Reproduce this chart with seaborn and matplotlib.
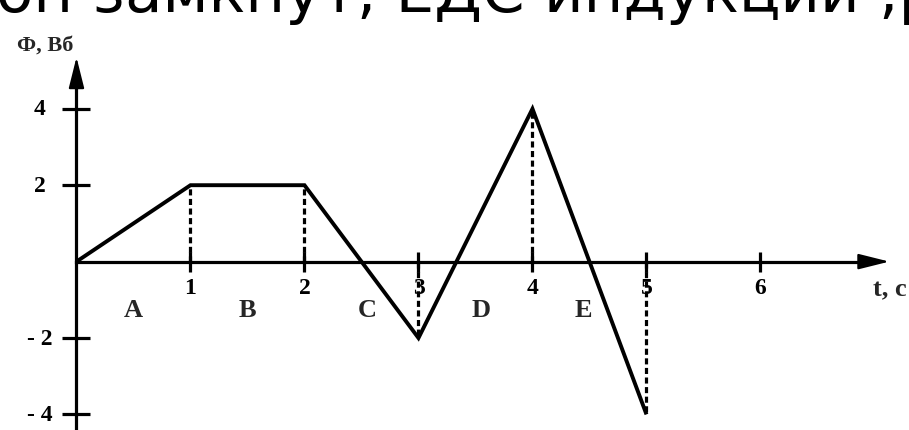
import matplotlib
matplotlib.use("Agg")
import matplotlib.pyplot as plt
from matplotlib.patches import FancyArrowPatch
import pandas as pd
import seaborn as sns

# Magnetic flux through the loop versus time
time_s = [0, 1, 2, 3, 4, 5]
flux_wb = [0, 2, 2, -2, 4, -4]

x_ticks = [1, 2, 3, 4, 5, 6]
x_tick_labels = ["1", "2", "3", "4", "5", "6"]
y_ticks = [4, 2, -2, -4]
y_tick_labels = ["4", "2", "- 2", "- 4"]

segment_names = ["A", "B", "C", "D", "E"]
segment_t = [0.5, 1.5, 2.55, 3.55, 4.45]

y_title = "Ф, Вб"
x_title = "t, с"
heading = "он замкнут, ЕДС индукции ,β, с"

sns.set_theme(style="white")
plt.rcParams["font.family"] = ["Liberation Serif", "DejaVu Serif"]

W, H = 909, 431
fig = plt.figure(figsize=(W / 100, H / 100), dpi=100)
ax = fig.add_axes([0, 0, 1, 1])
ax.set_facecolor("white")
ax.set_xlim(-0.671, 7.303)
ax.set_ylim(-4.408, 6.874)

df = pd.DataFrame({"t": time_s, "phi": flux_wb})
sns.lineplot(data=df, x="t", y="phi", ax=ax, color="black", linewidth=2.8,
             sort=False, estimator=None, legend=False)
for ln in ax.lines:
    ln.set_solid_joinstyle("miter")
    ln.set_solid_capstyle("butt")

# dashed drop lines from each vertex to the time axis
ax.vlines(time_s[1:], 0, flux_wb[1:], colors="black", linewidth=2.3,
          linestyles=(0, (1.9, 1.1)))

# axes through the origin
for side in ("top", "right"):
    ax.spines[side].set_visible(False)
for side in ("left", "bottom"):
    ax.spines[side].set_position(("data", 0))
    ax.spines[side].set_color("black")
    ax.spines[side].set_linewidth(2.3)
ax.spines["bottom"].set_bounds(0, 7.0)
ax.spines["left"].set_bounds(-4.408, 5.1)

ax.set_xticks(x_ticks)
ax.set_yticks(y_ticks)
ax.tick_params(axis="x", bottom=True, direction="inout", length=14,
               width=2.3, color="black", labelbottom=False)
ax.tick_params(axis="y", left=True, direction="inout", length=20,
               width=2.3, color="black", labelleft=False)
ax.set_xlabel("")
ax.set_ylabel("")

# arrowheads
for tail, tip in (((6.9, 0), (7.13, 0)), ((0, 4.9), (0, 5.35))):
    ax.add_patch(FancyArrowPatch(tail, tip, arrowstyle="-|>,head_length=1.6,head_width=0.4",
                                 mutation_scale=12, color="black", linewidth=1.5,
                                 shrinkA=0, shrinkB=0))

label_font = dict(fontsize=17, fontweight="bold", color="black")
for t, lab in zip(x_ticks, x_tick_labels):
    ax.annotate(lab, (t, 0), xytext=(0, -26), textcoords="offset pixels",
                ha="center", va="center", **label_font)
for v, lab in zip(y_ticks, y_tick_labels):
    ax.annotate(lab, (0, v), xytext=(-31 if v > 0 else -24, 0),
                textcoords="offset pixels", ha="right", va="center", **label_font)

for t, name in zip(segment_t, segment_names):
    ax.annotate(name, (t, 0), xytext=(0, -48), textcoords="offset pixels",
                ha="center", va="center", fontsize=19, fontweight="bold")

ax.annotate(x_title, (7.303, 0), xytext=(-2, -27), textcoords="offset pixels",
            ha="right", va="center", fontsize=19, fontweight="bold")
ax.annotate(y_title, (0, 5.35), xytext=(-31, 13), textcoords="offset pixels",
            ha="center", va="center", fontsize=16, fontweight="bold")

# running text of the page above the graph, only its lower edge shows
fig.text(-0.004, 1 - 12 / H, heading, fontsize=44, va="baseline", ha="left",
         family="DejaVu Sans", color="black")

fig.savefig("out.png", dpi=100)
